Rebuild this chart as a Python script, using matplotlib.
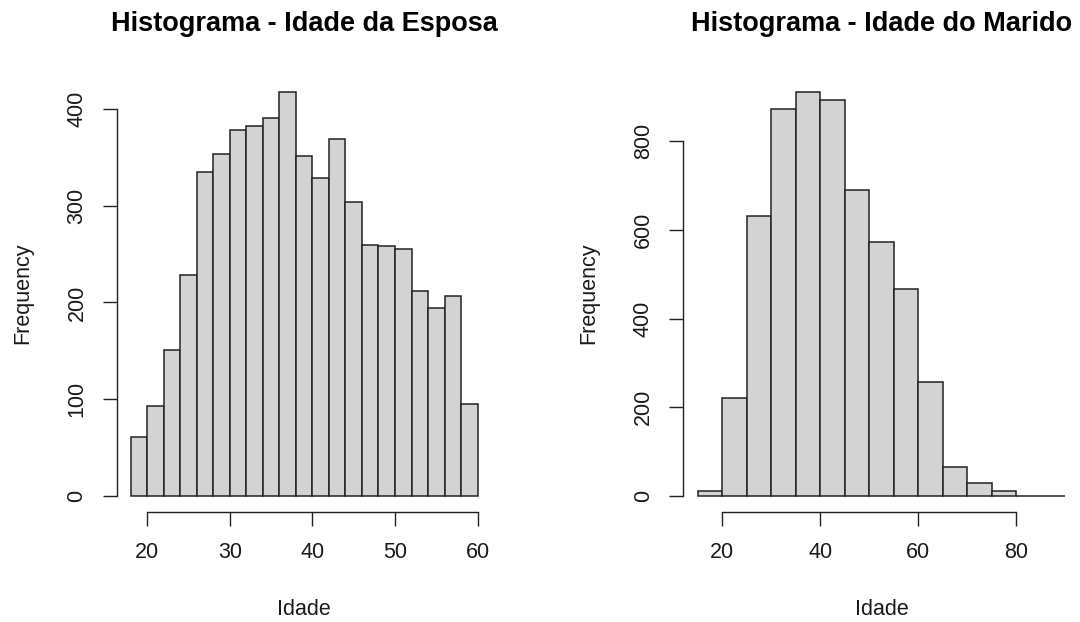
import matplotlib
matplotlib.use("Agg")
import matplotlib.pyplot as plt

plt.rcParams["font.family"] = ["Liberation Sans", "DejaVu Sans"]

# idade da esposa: classes de 2 anos, 18 a 60
esposa_bins = [18, 20, 22, 24, 26, 28, 30, 32, 34, 36, 38, 40, 42, 44, 46, 48, 50, 52, 54, 56, 58, 60]
esposa_freq = [61, 93, 151, 228, 335, 354, 378, 383, 391, 418, 351, 329, 369, 304, 259, 258, 255, 212, 194, 207, 95]

# idade do marido: classes de 5 anos, 15 a 90
marido_bins = [15, 20, 25, 30, 35, 40, 45, 50, 55, 60, 65, 70, 75, 80, 85, 90]
marido_freq = [10, 220, 632, 874, 912, 893, 690, 573, 466, 256, 65, 28, 10, 0, 0]

esposa_xticks = [20, 30, 40, 50, 60]
esposa_yticks = [0, 100, 200, 300, 400]
marido_xticks = [20, 40, 60, 80]
marido_yticks = [0, 200, 400, 600, 800]

TXT = "#1a1a1a"
FS = 15.5


def r_hist(ax, bins, freq, xticks, yticks, title):
    """Histograma no estilo base do R."""
    widths = [b - a for a, b in zip(bins[:-1], bins[1:])]
    ax.bar(bins[:-1], freq, width=widths, align="edge",
           color="#d3d3d3", edgecolor="#222222", linewidth=1.1)
    # limites com a expansão de 4% que o R usa
    span = bins[-1] - bins[0]
    ax.set_xlim(bins[0] - 0.04 * span, bins[-1] + 0.04 * span)
    top = max(freq)
    ax.set_ylim(-0.04 * top, top * 1.04)

    for side in ("top", "right"):
        ax.spines[side].set_visible(False)
    ax.spines["left"].set_bounds(yticks[0], yticks[-1])
    ax.spines["bottom"].set_bounds(xticks[0], xticks[-1])
    for side in ("left", "bottom"):
        ax.spines[side].set_color("#222222")
        ax.spines[side].set_linewidth(1.0)

    ax.set_xticks(xticks)
    ax.set_yticks(yticks)
    ax.set_yticklabels([str(v) for v in yticks], rotation=90, va="center")
    ax.tick_params(axis="both", length=10, width=1.0, color="#222222",
                   labelsize=FS, labelcolor=TXT)
    ax.tick_params(axis="x", pad=12)
    ax.tick_params(axis="y", pad=11)

    ax.set_xlabel("Idade", fontsize=FS, color=TXT, labelpad=25.5)
    ax.set_ylabel("Frequency", fontsize=FS, color=TXT, labelpad=24)
    ax.set_title(title, fontsize=19.5, fontweight="bold", color="black", pad=32)


fig = plt.figure(figsize=(10.8, 6.22), dpi=100)
ax1 = fig.add_axes([0.1081, 0.177, 0.347, 0.7015])
ax2 = fig.add_axes([0.6324, 0.177, 0.3674, 0.7015])

r_hist(ax1, esposa_bins, esposa_freq, esposa_xticks, esposa_yticks,
       "Histograma - Idade da Esposa")
r_hist(ax2, marido_bins, marido_freq, marido_xticks, marido_yticks,
       "Histograma - Idade do Marido")

fig.savefig("out.png", dpi=100)
